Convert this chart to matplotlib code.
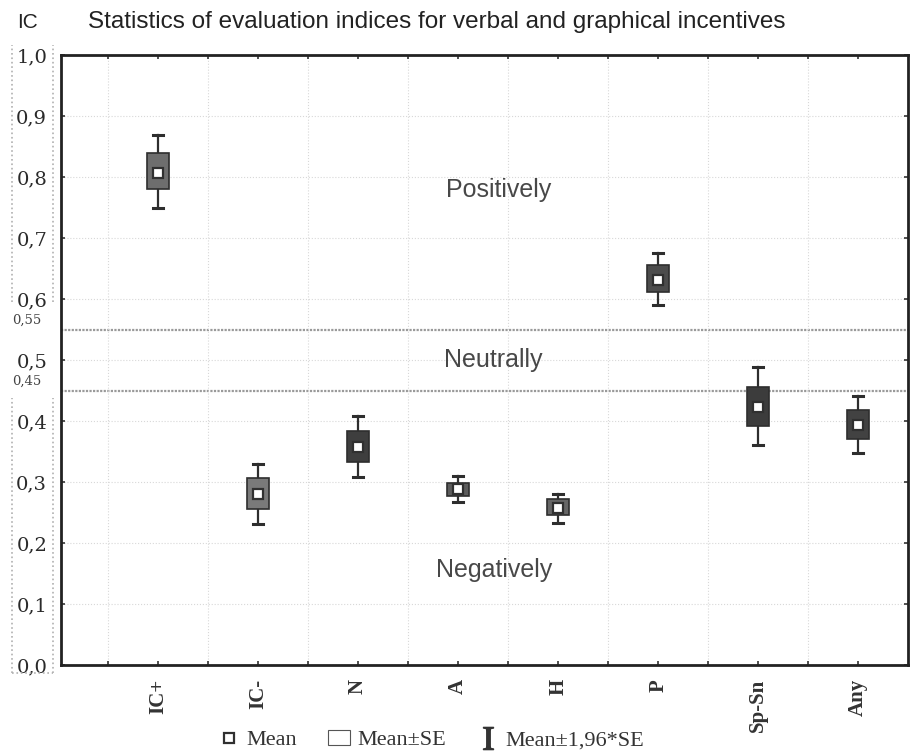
import matplotlib
matplotlib.use("Agg")
import matplotlib.pyplot as plt
from matplotlib.patches import Rectangle, Patch
from matplotlib.lines import Line2D
import matplotlib.transforms as mtransforms

plt.rcParams['mathtext.fontset'] = 'stix'

# данные
categories = ['IC+', 'IC-', 'N', 'A', 'H', 'P', 'Sp-Sn', 'Any']
x_pos = [2, 4, 6, 8, 10, 12, 14, 16]
means = [0.807, 0.280, 0.357, 0.289, 0.257, 0.632, 0.423, 0.394]
se_low = [0.780, 0.256, 0.333, 0.277, 0.246, 0.612, 0.392, 0.370]
se_high = [0.840, 0.306, 0.384, 0.299, 0.272, 0.656, 0.456, 0.418]
ci_low = [0.750, 0.232, 0.308, 0.268, 0.233, 0.591, 0.361, 0.347]
ci_high = [0.869, 0.329, 0.409, 0.310, 0.281, 0.676, 0.489, 0.442]
box_colors = ['#6e6e6e', '#7a7a7a', '#3e3e3e', '#5c5c5c', '#666666', '#4c4c4c', '#3c3c3c', '#424242']

y_ticks = [0.0, 0.1, 0.2, 0.3, 0.4, 0.5, 0.6, 0.7, 0.8, 0.9, 1.0]
y_ticklabels = ['0,0', '0,1', '0,2', '0,3', '0,4', '0,5', '0,6', '0,7', '0,8', '0,9', '1,0']
bounds = [0.55, 0.45]
zones = ['Positively', 'Neutrally', 'Negatively']
zone_x = [8.8, 8.7, 8.72]
zone_y = [0.779, 0.50, 0.156]

fig = plt.figure(figsize=(9.11, 7.55), dpi=100)
ax = fig.add_axes([0.067, 0.119, 0.930, 0.808])

ax.set_xlim(0.06, 17)
ax.set_ylim(0, 1.0)

# сетка
ax.set_xticks(range(1, 17), minor=True)
ax.grid(which='minor', axis='x', color='#d8d8d8', linestyle=':', linewidth=0.8)
ax.grid(which='major', axis='y', color='#d8d8d8', linestyle=':', linewidth=0.8)
for b in bounds:
    ax.axhline(b, color='#9a9a9a', linestyle=(0, (1, 0.6)), linewidth=1.6, zorder=1)

box_w = 0.44
cap_w = 0.2
edge = '#2e2e2e'
for i in range(len(categories)):
    x = x_pos[i]
    ax.plot([x, x], [ci_low[i], ci_high[i]], color=edge, lw=1.6, zorder=2)
    ax.plot([x - cap_w / 2, x + cap_w / 2], [ci_low[i], ci_low[i]], color=edge, lw=2.2, zorder=2)
    ax.plot([x - cap_w / 2, x + cap_w / 2], [ci_high[i], ci_high[i]], color=edge, lw=2.2, zorder=2)
    ax.add_patch(Rectangle((x - box_w / 2, se_low[i]), box_w, se_high[i] - se_low[i],
                           facecolor=box_colors[i], edgecolor=edge, lw=1.2, zorder=3))
    ax.plot(x, means[i], marker='s', markersize=7, markerfacecolor='white',
            markeredgecolor='#303030', markeredgewidth=1.6, zorder=4)

for t, xx, yy in zip(zones, zone_x, zone_y):
    ax.text(xx, yy, t, ha='center', va='center', fontsize=18, color='#484848',
            family='Liberation Sans')

# оси
ax.set_xticks(x_pos)
ax.set_xticklabels(categories, rotation=90, family='Liberation Serif', fontsize=15,
                   fontweight='bold', color='#333333')
ax.set_yticks(y_ticks)
ax.set_yticklabels(y_ticklabels, family='DejaVu Serif', fontsize=14, color='#2a2a2a')
ax.tick_params(axis='both', which='both', direction='in', length=3, width=1.2,
               top=True, right=True, color='#333333')
ax.tick_params(axis='y', pad=10)
ax.tick_params(axis='x', pad=10)
for s in ax.spines.values():
    s.set_linewidth(2)
    s.set_color('#222222')

# подписи 0,55 и 0,45
trans = mtransforms.blended_transform_factory(fig.transFigure, ax.transData)
for b in bounds:
    ax.text(12 / 911, b + 0.004, ('%.2f' % b).replace('.', ','), transform=trans,
            family='DejaVu Serif', fontsize=9.5, color='#444444', ha='left', va='bottom')

# скобки вокруг подписей
for y0, y1 in [(0.595, 1.016), (-0.013, 0.438)]:
    for xf in [12 / 911, 53 / 911]:
        ax.add_line(Line2D([xf, xf], [y0, y1], transform=trans, color='#b0b0b0',
                           linestyle=':', linewidth=1.2, clip_on=False))
ax.add_line(Line2D([12 / 911, 53 / 911], [-0.013, -0.013], transform=trans, color='#b0b0b0',
                   linestyle=':', linewidth=1.2, clip_on=False))

fig.text(17 / 911, 1 - 22 / 755, 'IC', fontsize=15, family='Liberation Sans', va='center',
         color='#222222')
fig.text(88 / 911, 1 - 22 / 755, 'Statistics of evaluation indices for verbal and graphical incentives',
         fontsize=17.5, family='Liberation Sans', va='center', color='#222222')

handles = [
    Line2D([], [], marker='s', markersize=7, markerfacecolor='white', markeredgecolor='#303030',
           markeredgewidth=1.6, linestyle='none'),
    Patch(facecolor='white', edgecolor='#555555', linewidth=0.8),
    Line2D([], [], marker=r'$\mathrm{I}$', markersize=16, color='#333333', linestyle='none'),
]
fig.legend(handles, ['Mean', 'Mean±SE', 'Mean±1,96*SE'], loc='center', ncol=3,
           bbox_to_anchor=(431 / 911, 1 - 740 / 755), frameon=False,
           prop={'family': 'Liberation Serif', 'size': 16}, handlelength=1.0,
           handletextpad=0.3, columnspacing=1.4, labelcolor='#333333')

fig.savefig('out.png', dpi=100)
